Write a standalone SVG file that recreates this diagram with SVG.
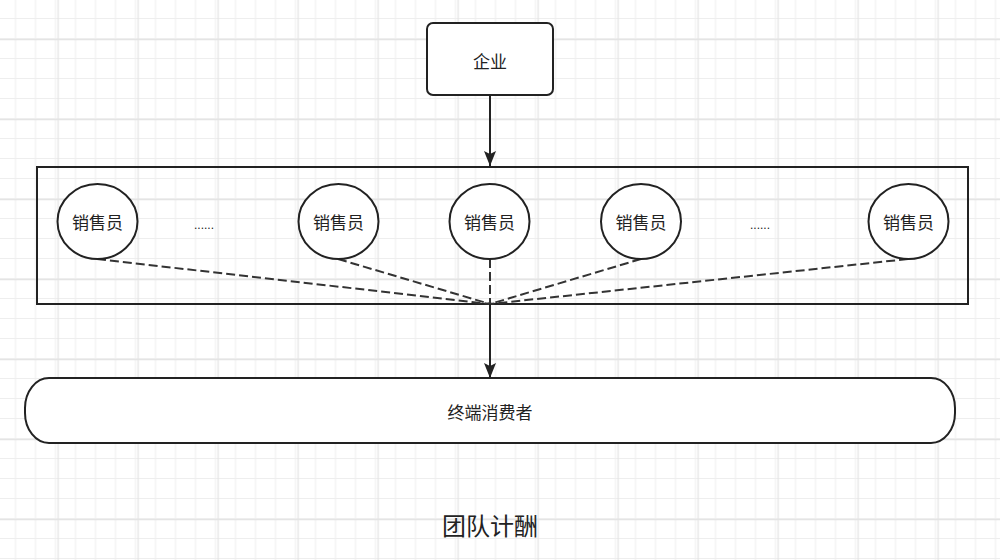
<svg xmlns="http://www.w3.org/2000/svg" width="1000" height="560" viewBox="0 0 1000 560">
  <defs>
    <pattern id="minor" x="-2.5" y="-1" width="20" height="20" patternUnits="userSpaceOnUse">
      <path d="M 0 0.5 L 20 0.5 M 0.5 0 L 0.5 20" fill="none" stroke="#eeeeee" stroke-width="1"/>
    </pattern>
    <pattern id="major" x="-22.5" y="-41" width="80" height="80" patternUnits="userSpaceOnUse">
      <rect width="80" height="80" fill="url(#minor)"/>
      <path d="M 0 0.5 L 80 0.5 M 0.5 0 L 0.5 80" fill="none" stroke="#e4e4e4" stroke-width="1.5"/>
    </pattern>
    <marker id="arrow" viewBox="0 0 15 12" refX="15" refY="6" markerWidth="15" markerHeight="12" markerUnits="userSpaceOnUse" orient="auto">
      <path d="M 0 0 L 15 6 L 0 12 L 3 6 Z" fill="#222222"/>
    </marker>
    <style>
      .box { fill: #ffffff; stroke: #222222; stroke-width: 2; }
      .frame { fill: none; stroke: #222222; stroke-width: 2; }
      .lbl { font-family: "Noto Sans CJK SC", "Liberation Sans", sans-serif; font-size: 17px; fill: #222222; text-anchor: middle; dominant-baseline: central; }
      .dots { font-family: "Liberation Sans", sans-serif; font-size: 12px; fill: #222222; text-anchor: middle; }
      .dash { stroke: #333333; stroke-width: 2; stroke-dasharray: 9 4; fill: none; }
      .solid { stroke: #222222; stroke-width: 2; fill: none; }
    </style>
  </defs>
  <rect width="1000" height="560" fill="#ffffff"/>
  <rect width="1000" height="560" fill="url(#major)"/>

  <g id="container">
    <rect class="frame" x="37" y="167" width="931" height="137"/>
  </g>

  <g id="connectors">
    <line class="dash" x1="97" y1="259" x2="490" y2="304"/>
    <line class="dash" x1="338" y1="259" x2="490" y2="304"/>
    <line class="dash" x1="490" y1="259" x2="490" y2="304"/>
    <line class="dash" x1="641" y1="259" x2="490" y2="304"/>
    <line class="dash" x1="908" y1="259" x2="490" y2="304"/>
    <line class="solid" x1="490" y1="95" x2="490" y2="166" marker-end="url(#arrow)"/>
    <line class="solid" x1="490" y1="304" x2="490" y2="378" marker-end="url(#arrow)"/>
  </g>

  <g id="enterprise">
    <rect class="box" x="427" y="23" width="126" height="72" rx="6" ry="6"/>
    <text class="lbl" x="490" y="60">企业</text>
  </g>

  <g id="sales1">
    <ellipse class="box" cx="97.5" cy="221.5" rx="40" ry="37.5"/>
    <text class="lbl" x="97.5" y="221.5">销售员</text>
  </g>
  <g id="dots1">
    <text class="dots" x="204" y="229">......</text>
  </g>
  <g id="sales2">
    <ellipse class="box" cx="338.5" cy="221.5" rx="40" ry="37.5"/>
    <text class="lbl" x="338.5" y="221.5">销售员</text>
  </g>
  <g id="sales3">
    <ellipse class="box" cx="489.5" cy="221.5" rx="40" ry="37.5"/>
    <text class="lbl" x="489.5" y="221.5">销售员</text>
  </g>
  <g id="sales4">
    <ellipse class="box" cx="641" cy="221.5" rx="40" ry="37.5"/>
    <text class="lbl" x="641" y="221.5">销售员</text>
  </g>
  <g id="dots2">
    <text class="dots" x="760" y="229">......</text>
  </g>
  <g id="sales5">
    <ellipse class="box" cx="908.5" cy="221.5" rx="40" ry="37.5"/>
    <text class="lbl" x="908.5" y="221.5">销售员</text>
  </g>

  <g id="consumer">
    <rect class="box" x="25" y="378" width="930" height="65" rx="24" ry="30"/>
    <text class="lbl" x="490" y="411">终端消费者</text>
  </g>

  <g id="title">
    <text x="490" y="524" font-family="Noto Sans CJK SC, Liberation Sans, sans-serif" font-size="24" fill="#222222" text-anchor="middle" dominant-baseline="central">团队计酬</text>
  </g>
</svg>
